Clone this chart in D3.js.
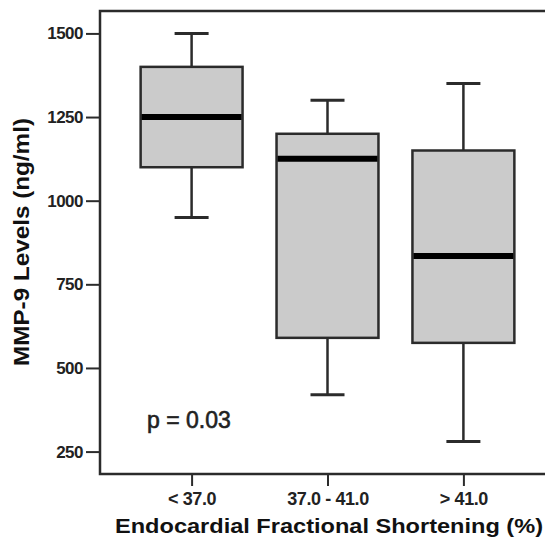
<!DOCTYPE html>
<html>
<head>
<meta charset="utf-8">
<script src="https://cdn.jsdelivr.net/npm/d3@7"></script>
<style>
  body { margin: 0; background: #fff; }
  svg { display: block; font-family: "Liberation Sans", Arial, sans-serif; }
</style>
</head>
<body>
<svg id="chart" width="545" height="540"></svg>
<script>
// data
const groups = ["< 37.0", "37.0 - 41.0", "> 41.0"];
const whiskerLow = [950, 420, 280];
const q1 = [1100, 590, 575];
const median = [1250, 1125, 835];
const q3 = [1400, 1200, 1150];
const whiskerHigh = [1500, 1300, 1350];
const yTicks = [250, 500, 750, 1000, 1250, 1500];

const svg = d3.select("#chart");
const margin = { left: 100, top: 11, right: -10, bottom: 66 };
const W = 545, H = 540;

const x = d3.scalePoint()
  .domain(groups)
  .range([margin.left, W - margin.right])
  .padding(0.674);

const y = d3.scaleLinear()
  .domain([183, 1567])
  .range([H - margin.bottom, margin.top]);

const step = x.step();
const boxW = step * 0.75;
const ink = "#2b2b2b";

// frame
svg.append("rect")
  .attr("x", margin.left)
  .attr("y", margin.top)
  .attr("width", W - margin.right - margin.left)
  .attr("height", (H - margin.bottom) - margin.top)
  .attr("fill", "none")
  .attr("stroke", ink)
  .attr("stroke-width", 2.5);

// y axis
const yAxis = svg.append("g")
  .attr("transform", `translate(${margin.left},0)`)
  .call(d3.axisLeft(y).tickValues(yTicks).tickSize(14).tickPadding(3).tickFormat(d3.format("d")));
yAxis.select(".domain").remove();
yAxis.selectAll(".tick line").attr("stroke", ink).attr("stroke-width", 2);
yAxis.selectAll(".tick text")
  .attr("fill", "#222")
  .style("font-size", "17px")
  .style("font-weight", "bold")
  .style("letter-spacing", "-0.5px");

// x axis
const xAxis = svg.append("g")
  .attr("transform", `translate(0,${H - margin.bottom})`)
  .call(d3.axisBottom(x).tickSize(12).tickPadding(6));
xAxis.select(".domain").remove();
xAxis.selectAll(".tick line").attr("stroke", ink).attr("stroke-width", 2);
xAxis.selectAll(".tick text")
  .attr("fill", "#222")
  .style("font-size", "18px")
  .style("font-weight", "bold")
  .style("letter-spacing", "-0.4px");

// boxes
const rows = groups.map((g, i) => ({
  g, lo: whiskerLow[i], q1: q1[i], med: median[i], q3: q3[i], hi: whiskerHigh[i]
}));

const box = svg.selectAll(".box")
  .data(rows)
  .enter()
  .append("g")
  .attr("class", "box")
  .attr("transform", d => `translate(${x(d.g)},0)`);

box.append("line")
  .attr("x1", 0).attr("x2", 0)
  .attr("y1", d => y(d.hi)).attr("y2", d => y(d.q3))
  .attr("stroke", ink).attr("stroke-width", 2.5);
box.append("line")
  .attr("x1", 0).attr("x2", 0)
  .attr("y1", d => y(d.q1)).attr("y2", d => y(d.lo))
  .attr("stroke", ink).attr("stroke-width", 2.5);

// whisker caps
box.selectAll(".cap")
  .data(d => [d.hi, d.lo])
  .enter()
  .append("line")
  .attr("class", "cap")
  .attr("x1", -17).attr("x2", 17)
  .attr("y1", v => y(v)).attr("y2", v => y(v))
  .attr("stroke", ink).attr("stroke-width", 3);

box.append("rect")
  .attr("x", -boxW / 2)
  .attr("width", boxW)
  .attr("y", d => y(d.q3))
  .attr("height", d => y(d.q1) - y(d.q3))
  .attr("fill", "#cbcbcb")
  .attr("stroke", ink)
  .attr("stroke-width", 2.5);

box.append("line")
  .attr("x1", -boxW / 2 + 1).attr("x2", boxW / 2 - 1)
  .attr("y1", d => y(d.med)).attr("y2", d => y(d.med))
  .attr("stroke", "#000").attr("stroke-width", 6);

// annotation
svg.append("text")
  .attr("x", 147)
  .attr("y", 428)
  .attr("fill", "#222")
  .attr("stroke", "#222")
  .attr("stroke-width", 0.6)
  .style("font-size", "23px")
  .text("p = 0.03");

// axis titles
svg.append("text")
  .attr("x", 329)
  .attr("y", 533)
  .attr("text-anchor", "middle")
  .attr("fill", "#111")
  .attr("textLength", 428)
  .attr("lengthAdjust", "spacingAndGlyphs")
  .style("font-size", "21px")
  .style("font-weight", "bold")
  .text("Endocardial Fractional Shortening (%)");

svg.append("text")
  .attr("transform", "translate(29,242) rotate(-90)")
  .attr("text-anchor", "middle")
  .attr("fill", "#111")
  .attr("textLength", 248)
  .attr("lengthAdjust", "spacingAndGlyphs")
  .style("font-size", "22px")
  .style("font-weight", "bold")
  .text("MMP-9 Levels (ng/ml)");
</script>
</body>
</html>
